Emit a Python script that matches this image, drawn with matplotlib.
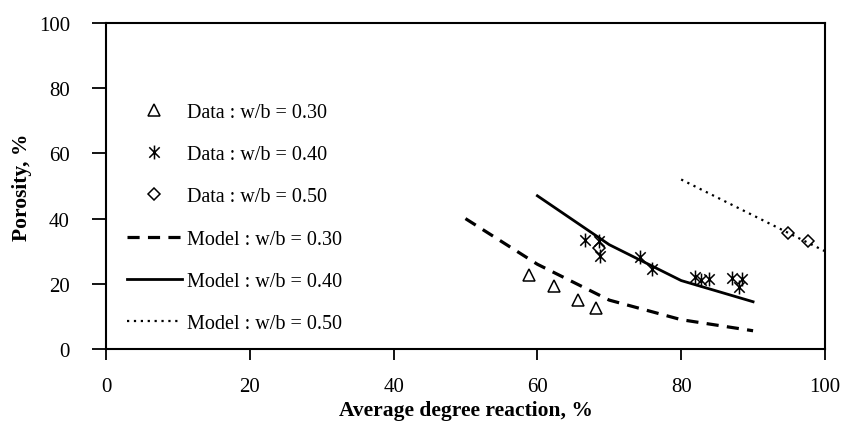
import matplotlib.pyplot as plt
from matplotlib.path import Path

# --- Data ---
# measured points
tri_x = [58.9, 62.3, 65.7, 68.1]            # w/b = 0.30
tri_y = [22.7, 19.4, 15.1, 12.7]
ast_x = [66.6, 68.6, 68.7, 74.3, 75.9, 81.9, 82.8, 83.9, 87.0, 88.5, 88.1]   # w/b = 0.40
ast_y = [33.4, 33.2, 28.6, 28.1, 24.5, 22.0, 21.3, 21.5, 21.8, 21.5, 19.1]
dia_x = [68.6, 94.9, 97.7]                  # w/b = 0.50
dia_y = [31.0, 35.6, 33.2]

# model curves
m30_x = [50, 60, 70, 80, 90]
m30_y = [40.0, 26.0, 15.0, 9.0, 5.6]
m40_x = [60, 70, 80, 90]
m40_y = [47.0, 32.0, 21.0, 14.5]
m50_x = [80, 90, 100]
m50_y = [52.0, 41.0, 30.0]

xticks = [0, 20, 40, 60, 80, 100]
yticks = [0, 20, 40, 60, 80, 100]

plt.rcParams['font.family'] = ['Liberation Serif', 'DejaVu Serif']

# asterisk marker: vertical bar + X
ast_marker = Path([(0, -1), (0, 1), (-0.75, -0.75), (0.75, 0.75), (-0.75, 0.75), (0.75, -0.75)],
                  [Path.MOVETO, Path.LINETO, Path.MOVETO, Path.LINETO, Path.MOVETO, Path.LINETO])

fig = plt.figure(figsize=(8.45, 4.39), dpi=100)
ax = fig.add_axes([0.1254, 0.2027, 0.8509, 0.7426])

ax.plot(tri_x, tri_y, linestyle='none', marker='^', markersize=9, markerfacecolor='none',
        markeredgecolor='k', markeredgewidth=1.1, label='Data : w/b = 0.30')
ax.plot(ast_x, ast_y, linestyle='none', marker=ast_marker, markersize=10, markerfacecolor='none',
        markeredgecolor='k', markeredgewidth=1.1, label='Data : w/b = 0.40')
ax.plot(dia_x, dia_y, linestyle='none', marker='D', markersize=6.5, markerfacecolor='none',
        markeredgecolor='k', markeredgewidth=1.1, label='Data : w/b = 0.50')
ax.plot(m30_x, m30_y, color='k', linewidth=2.3, linestyle=(0, (3.8, 2.6)), label='Model : w/b = 0.30')
ax.plot(m40_x, m40_y, color='k', linewidth=2.0, linestyle='-', label='Model : w/b = 0.40')
ax.plot(m50_x, m50_y, color='k', linewidth=1.6, linestyle=(0, (1, 2.1)), label='Model : w/b = 0.50')

ax.set_xlim(0, 100)
ax.set_ylim(0, 100)
ax.set_xticks(xticks)
ax.set_yticks(yticks)
ax.tick_params(axis='x', direction='out', length=8, width=1.3, pad=12, labelsize=15)
ax.tick_params(axis='y', direction='out', length=10, width=1.3, pad=16, labelsize=15)
for s in ax.spines.values():
    s.set_linewidth(1.5)

ax.set_xlabel('Average degree reaction, %', fontsize=15.5, fontweight='bold', labelpad=3)
ax.set_ylabel('Porosity, %', fontsize=15.5, fontweight='bold', labelpad=5)

ax.legend(loc='upper left', bbox_to_anchor=(0.029, 0.755), frameon=False, fontsize=14.5,
          handlelength=2.73, handletextpad=0.25, labelspacing=1.15, borderaxespad=0, borderpad=0)

fig.savefig('out.png', dpi=100)
